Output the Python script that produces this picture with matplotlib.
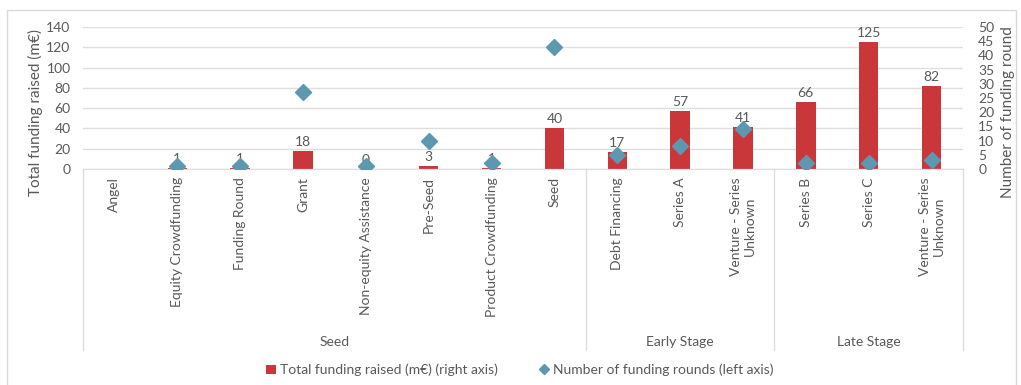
import matplotlib
matplotlib.use("Agg")
import matplotlib.pyplot as plt
import matplotlib.transforms as mtransforms
from matplotlib.patches import Rectangle
import numpy as np

# funding by round type, grouped by stage
categories = ["Angel", "Equity Crowdfunding", "Funding Round", "Grant",
              "Non-equity Assistance", "Pre-Seed", "Product Crowdfunding", "Seed",
              "Debt Financing", "Series A", "Venture - Series\nUnknown",
              "Series B", "Series C", "Venture - Series\nUnknown"]
funding = [np.nan, 1, 1, 18, 0, 3, 1, 40, 17, 57, 41, 66, 125, 82]
rounds = [np.nan, 1, 1, 27, 1, 10, 2, 43, 5, 8, 14, 2, 2, 3]
stages = ["Seed", "Early Stage", "Late Stage"]
stage_sizes = [8, 3, 3]

RED = "#C9373A"
BLUE = "#5D97B0"
GREY = "#595959"
GRID = "#DEDEDE"

plt.rcParams["font.family"] = ["Lato", "DejaVu Sans"]
plt.rcParams["font.size"] = 10

fig = plt.figure(figsize=(10.21, 3.85), dpi=100)
fig.patches.append(Rectangle((7 / 1021, -0.01), 1009 / 1021, 1 - 10 / 385 + 0.01,
                             transform=fig.transFigure, fill=False,
                             edgecolor="#D9D9D9", linewidth=1))

ax = fig.add_axes([83 / 1021, 1 - 169 / 385, 880 / 1021, 142 / 385])
ax2 = ax.twinx()

x = np.arange(len(categories))
ax.bar(x, funding, width=0.31, color=RED, zorder=2, label="Total funding raised (m€) (right axis)")
for xi, v in zip(x, funding):
    if not np.isnan(v):
        ax.text(xi, v + 3, f"{v:.0f}", ha="center", va="bottom", color=GREY, fontsize=10)

ax2.plot(x, rounds, linestyle="none", marker="D", markersize=8.5, color=BLUE,
         zorder=3, label="Number of funding rounds (left axis)")

ax.set_xlim(-0.5, len(categories) - 0.5)
ax.set_ylim(0, 140)
ax.set_yticks(range(0, 141, 20))
ax2.set_ylim(0, 50)
ax2.set_yticks(range(0, 51, 5))
ax.grid(axis="y", color=GRID, linewidth=1, zorder=0)
ax.set_axisbelow(True)

for a in (ax, ax2):
    for side in ("top", "left", "right"):
        a.spines[side].set_visible(False)
    a.spines["bottom"].set_color(GRID)
    a.tick_params(length=0, colors=GREY, labelsize=10)

ax.set_xticks(x)
ax.set_xticklabels(categories, rotation=90, va="top", ha="center",
                   multialignment="center")
ax.tick_params(axis="x", pad=6)
ax.tick_params(axis="y", pad=9)
ax2.tick_params(axis="y", pad=11)

# stage brackets beneath the category labels
trans = mtransforms.blended_transform_factory(ax.transData, ax.transAxes)
edges = np.concatenate([[0], np.cumsum(stage_sizes)]) - 0.5
for e in edges:
    ax.plot([e, e], [0, -1.275], transform=trans, color=GRID, linewidth=1, clip_on=False)
for name, lo, hi in zip(stages, edges[:-1], edges[1:]):
    ax.text((lo + hi) / 2, -1.22, name, transform=trans, ha="center", va="center",
            color=GREY, fontsize=10)

fig.text(35 / 1021, 1 - 112 / 385, "Total funding raised (m€)", rotation=90,
         ha="center", va="center", color=GREY, fontsize=11)
fig.text(1008 / 1021, 1 - 112 / 385, "Number of funding round", rotation=90,
         ha="center", va="center", color=GREY, fontsize=11)

h1, l1 = ax.get_legend_handles_labels()
h2, l2 = ax2.get_legend_handles_labels()
leg = fig.legend(h1 + h2, l1 + l2, loc="center", bbox_to_anchor=(520 / 1021, 1 - 370 / 385),
                 ncol=2, frameon=False, fontsize=10, handlelength=0.7, handletextpad=0.3,
                 columnspacing=3, markerscale=0.6)
for t in leg.get_texts():
    t.set_color(GREY)

fig.savefig("out.png", dpi=100)
